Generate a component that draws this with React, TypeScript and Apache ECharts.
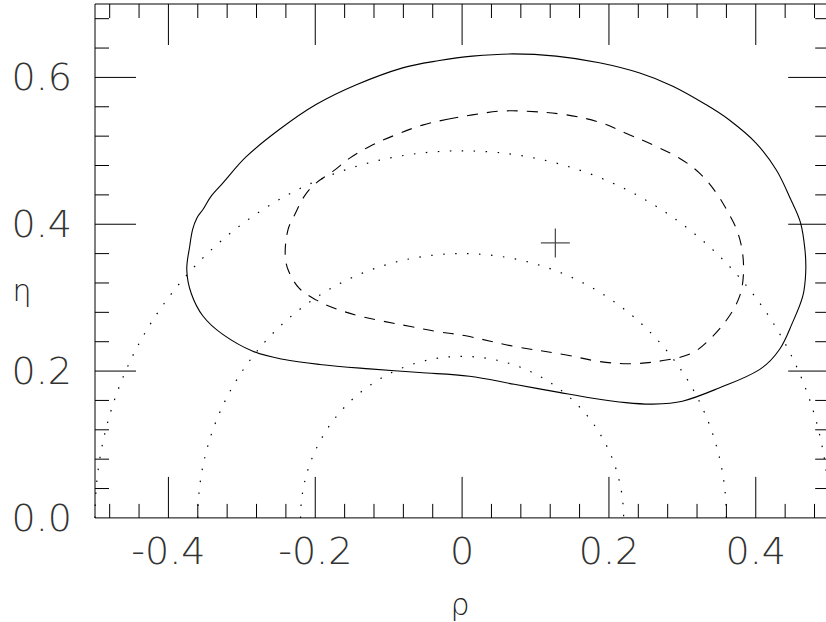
import React, { useEffect, useRef } from "react";
import * as echarts from "echarts";

// Axis ticks / labels
const xLabelValues = [-0.4, -0.2, 0, 0.2, 0.4];
const xLabelTexts = ["-0.4", "-0.2", "0", "0.2", "0.4"];
const yLabelValues = [0, 0.2, 0.4, 0.6];
const yLabelTexts = ["0.0", "0.2", "0.4", "0.6"];
const xMajorTicks = [-0.4, -0.2, 0, 0.2, 0.4];
const xMinorTicks = [-0.48, -0.44, -0.36, -0.32, -0.28, -0.24, -0.16, -0.12, -0.08, -0.04, 0.04, 0.08, 0.12, 0.16, 0.24, 0.28, 0.32, 0.36, 0.44, 0.48];
const yMajorTicks = [0.2, 0.4, 0.6];
const yMinorTicks = [0.04, 0.08, 0.12, 0.16, 0.24, 0.28, 0.32, 0.36, 0.44, 0.48, 0.52, 0.56, 0.64, 0.68];

// Solid contour (closed loop)
const solidX = [-0.031, 0.014, 0.069, 0.128, 0.187, 0.242, 0.287, 0.332, 0.364, 0.400, 0.428, 0.448, 0.461, 0.467, 0.468, 0.464, 0.450, 0.432, 0.405, 0.350, 0.300, 0.260, 0.223, 0.178, 0.132, 0.071, 0.010, -0.058, -0.126, -0.194, -0.244, -0.285, -0.326, -0.353, -0.369, -0.375, -0.371, -0.367, -0.361, -0.353, -0.342, -0.326, -0.294, -0.249, -0.199, -0.144, -0.081];
const solidY = [0.623, 0.629, 0.632, 0.629, 0.620, 0.606, 0.588, 0.563, 0.542, 0.511, 0.474, 0.433, 0.402, 0.365, 0.334, 0.302, 0.266, 0.229, 0.202, 0.177, 0.159, 0.155, 0.157, 0.163, 0.171, 0.182, 0.193, 0.198, 0.203, 0.209, 0.216, 0.227, 0.250, 0.275, 0.306, 0.338, 0.370, 0.393, 0.409, 0.420, 0.438, 0.456, 0.492, 0.529, 0.563, 0.590, 0.613];

// Dashed contour (closed loop)
const dashedX = [-0.020, 0.014, 0.051, 0.087, 0.142, 0.187, 0.223, 0.260, 0.296, 0.323, 0.346, 0.364, 0.375, 0.382, 0.383, 0.378, 0.364, 0.341, 0.314, 0.278, 0.231, 0.187, 0.142, 0.069, 0.005, -0.035, -0.072, -0.108, -0.140, -0.172, -0.199, -0.222, -0.237, -0.241, -0.237, -0.228, -0.215, -0.199, -0.176, -0.153, -0.126, -0.090, -0.054];
const dashedY = [0.543, 0.549, 0.554, 0.554, 0.549, 0.539, 0.524, 0.508, 0.490, 0.470, 0.443, 0.413, 0.390, 0.361, 0.329, 0.302, 0.275, 0.247, 0.225, 0.215, 0.210, 0.213, 0.222, 0.234, 0.248, 0.254, 0.261, 0.268, 0.275, 0.285, 0.297, 0.313, 0.338, 0.361, 0.393, 0.413, 0.438, 0.456, 0.472, 0.490, 0.506, 0.522, 0.535];

// Dotted circles (radii, centred at origin)
const circleRadii = [0.22, 0.36, 0.5];

// Best-fit marker
const markerX = [0.127];
const markerY = [0.3746];

const zip = (xs: number[], ys: number[]) => xs.map((x, i) => [x, ys[i]]);

const FONT = "DejaVu Sans";

const loopSeries = (xs: number[], ys: number[], lineDash: number[] | null) => ({
  type: "custom",
  silent: true,
  clip: true,
  data: [[xs[0], ys[0]]],
  renderItem: (params: any, api: any) => {
    const points = xs.map((x, i) => api.coord([x, ys[i]]));
    return {
      type: "polygon",
      shape: { points, smooth: 0.35 },
      style: { stroke: "#000", fill: "none", lineWidth: 1.1, lineDash: lineDash || undefined },
    };
  },
});

export default function App() {
  const ref = useRef<HTMLDivElement>(null);
  useEffect(() => {
    if (!ref.current) return;
    const chart = echarts.init(ref.current, null, { renderer: "svg" });
    const tickData: any[] = [];
    xMajorTicks.forEach((v) => tickData.push([0, v, 1]));
    xMinorTicks.forEach((v) => tickData.push([0, v, 0]));
    yMajorTicks.forEach((v) => tickData.push([1, v, 1]));
    yMinorTicks.forEach((v) => tickData.push([1, v, 0]));

    const labelFmt = (vals: number[], texts: string[]) => (v: number) => {
      const i = vals.findIndex((t) => Math.abs(t - v) < 1e-6);
      return i >= 0 ? texts[i] : "";
    };

    chart.setOption({
      animation: false,
      backgroundColor: "#fff",
      grid: {
        left: 95,
        top: 4,
        width: 734.2,
        height: 513.9,
        show: true,
        borderColor: "#000",
        borderWidth: 1,
        backgroundColor: "transparent",
        containLabel: false,
        outerBoundsMode: "none",
      },
      xAxis: {
        type: "value",
        min: -0.5,
        max: 0.5,
        interval: 0.1,
        axisLine: { show: false },
        axisTick: { show: false },
        splitLine: { show: false },
        axisLabel: {
          formatter: labelFmt(xLabelValues, xLabelTexts),
          fontSize: 38,
          fontFamily: FONT,
          fontWeight: 200,
          color: "#333",
          margin: 14,
        },
      },
      yAxis: {
        type: "value",
        min: 0,
        max: 0.7,
        interval: 0.1,
        axisLine: { show: false },
        axisTick: { show: false },
        splitLine: { show: false },
        axisLabel: {
          formatter: labelFmt(yLabelValues, yLabelTexts),
          fontSize: 38,
          fontFamily: FONT,
          fontWeight: 200,
          color: "#333",
          margin: 23,
        },
      },
      graphic: [
        {
          type: "text",
          x: 22,
          y: 290,
          style: { text: "η", fontSize: 30, fontFamily: FONT, fontWeight: 200, fill: "#222", align: "center", verticalAlign: "middle" },
        },
        {
          type: "text",
          x: 460,
          y: 604,
          style: { text: "ρ", fontSize: 30, fontFamily: FONT, fontWeight: 200, fill: "#222", align: "center", verticalAlign: "middle" },
        },
      ],
      series: [
        {
          type: "custom",
          silent: true,
          data: tickData,
          renderItem: (params: any, api: any) => {
            const kind = api.value(0);
            const v = api.value(1);
            const len = api.value(2) ? 41 : 14;
            const style = { stroke: "#000", lineWidth: 1 };
            if (kind === 0) {
              const b = api.coord([v, 0]);
              const t = api.coord([v, 0.7]);
              return {
                type: "group",
                children: [
                  { type: "line", shape: { x1: b[0], y1: b[1], x2: b[0], y2: b[1] - len }, style },
                  { type: "line", shape: { x1: t[0], y1: t[1], x2: t[0], y2: t[1] + len }, style },
                ],
              };
            }
            const l = api.coord([-0.5, v]);
            const r = api.coord([0.5, v]);
            return {
              type: "group",
              children: [
                { type: "line", shape: { x1: l[0], y1: l[1], x2: l[0] + len, y2: l[1] }, style },
                { type: "line", shape: { x1: r[0], y1: r[1], x2: r[0] - len, y2: r[1] }, style },
              ],
            };
          },
        },
        {
          type: "custom",
          silent: true,
          data: circleRadii.map((r) => [0, 0, r]),
          renderItem: (params: any, api: any) => {
            const c = api.coord([0, 0]);
            const rad = api.size([api.value(2), 0])[0];
            return {
              type: "arc",
              shape: { cx: c[0], cy: c[1], r: rad, startAngle: Math.PI, endAngle: 2 * Math.PI, clockwise: true },
              style: { stroke: "#000", fill: "none", lineWidth: 1.2, lineDash: [1.5, 10.5] },
            };
          },
        },
        loopSeries(solidX, solidY, null),
        loopSeries(dashedX, dashedY, [11, 9]),
        {
          type: "custom",
          silent: true,
          data: zip(markerX, markerY),
          renderItem: (params: any, api: any) => {
            const p = api.coord([api.value(0), api.value(1)]);
            const h = 14.5;
            const style = { stroke: "#444", lineWidth: 1.2 };
            return {
              type: "group",
              children: [
                { type: "line", shape: { x1: p[0] - h, y1: p[1], x2: p[0] + h, y2: p[1] }, style },
                { type: "line", shape: { x1: p[0], y1: p[1] - h, x2: p[0], y2: p[1] + h }, style },
              ],
            };
          },
        },
      ],
    });
    return () => chart.dispose();
  }, []);
  return <div ref={ref} style={{ position: "absolute", left: 0, top: 0, width: 826, height: 622 }} />;
}
